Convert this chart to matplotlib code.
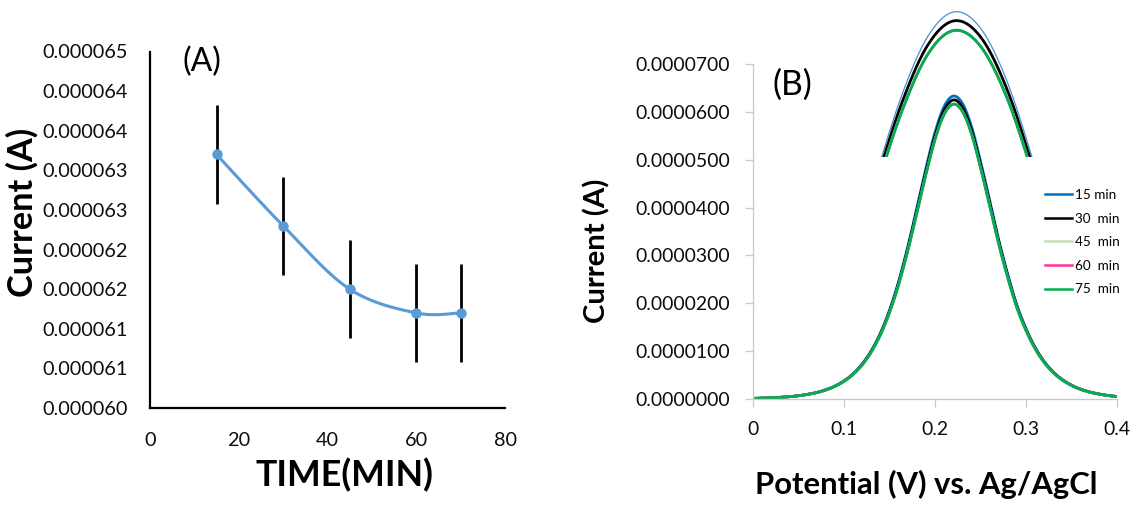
import numpy as np
import matplotlib
matplotlib.use("Agg")
import matplotlib.pyplot as plt
from matplotlib.lines import Line2D

plt.rcParams['font.family'] = ['Lato', 'DejaVu Sans']

# ---------------- data ----------------
# (A) peak current vs. incubation time
time_min = [15, 30, 45, 60, 70]
current_uA = [63.2, 62.3, 61.5, 61.2, 61.2]
current_err_uA = [0.62, 0.62, 0.62, 0.62, 0.62]
a_yticks_uA = [60.0, 60.5, 61.0, 61.5, 62.0, 62.5, 63.0, 63.5, 64.0, 64.5]
a_ytick_labels = ['0.000060', '0.000061', '0.000061', '0.000062', '0.000062',
                  '0.000063', '0.000063', '0.000064', '0.000064', '0.000065']
a_xticks = [0, 20, 40, 60, 80]

# (B) differential pulse voltammograms
potential_V = [0.00, 0.01, 0.02, 0.03, 0.04, 0.05, 0.06, 0.07, 0.08, 0.09,
               0.10, 0.11, 0.12, 0.13, 0.14, 0.15, 0.16, 0.17, 0.18, 0.19,
               0.20, 0.21, 0.22, 0.23, 0.24, 0.25, 0.26, 0.27, 0.28, 0.29,
               0.30, 0.31, 0.32, 0.33, 0.34, 0.35, 0.36, 0.37, 0.38, 0.39, 0.40]
dpv_15_uA = [0.12, 0.18, 0.25, 0.35, 0.49, 0.69, 0.98, 1.37, 1.93, 2.71, 3.79,
             5.27, 7.33, 10.10, 13.76, 18.55, 24.54, 31.75, 39.88, 48.20, 55.70,
             61.10, 63.30, 61.80, 57.00, 49.70, 41.60, 33.30, 26.00, 19.60, 14.70,
             10.80, 7.83, 5.63, 4.05, 2.90, 2.06, 1.47, 1.05, 0.74, 0.53]
dpv_30_uA = [0.12, 0.18, 0.25, 0.35, 0.48, 0.68, 0.97, 1.35, 1.90, 2.67, 3.74,
             5.20, 7.23, 9.97, 13.58, 18.31, 24.22, 31.34, 39.36, 47.57, 54.98,
             60.31, 62.48, 61.00, 56.26, 49.05, 41.06, 32.87, 25.66, 19.35, 14.51,
             10.66, 7.73, 5.56, 4.00, 2.86, 2.03, 1.45, 1.04, 0.73, 0.52]
dpv_45_uA = [0.12, 0.18, 0.24, 0.34, 0.48, 0.67, 0.95, 1.33, 1.88, 2.64, 3.69,
             5.13, 7.13, 9.83, 13.39, 18.05, 23.88, 30.89, 38.80, 46.95, 54.25,
             59.50, 61.64, 60.18, 55.50, 48.40, 40.48, 32.40, 25.30, 19.07, 14.30,
             10.51, 7.62, 5.48, 3.94, 2.82, 2.00, 1.43, 1.02, 0.72, 0.52]
dpv_60_uA = [0.12, 0.18, 0.24, 0.34, 0.48, 0.67, 0.95, 1.33, 1.88, 2.64, 3.69,
             5.13, 7.13, 9.83, 13.39, 18.05, 23.88, 30.89, 38.80, 46.92, 54.22,
             59.47, 61.61, 60.15, 55.48, 48.38, 40.48, 32.40, 25.30, 19.07, 14.30,
             10.51, 7.62, 5.48, 3.94, 2.82, 2.00, 1.43, 1.02, 0.72, 0.52]
dpv_75_uA = [0.12, 0.18, 0.24, 0.34, 0.48, 0.67, 0.95, 1.33, 1.88, 2.64, 3.69,
             5.13, 7.13, 9.83, 13.39, 18.05, 23.88, 30.89, 38.80, 46.90, 54.20,
             59.45, 61.59, 60.13, 55.46, 48.36, 40.48, 32.40, 25.30, 19.07, 14.30,
             10.51, 7.62, 5.48, 3.94, 2.82, 2.00, 1.43, 1.02, 0.72, 0.52]
series_labels = ['15 min', '30  min', '45  min', '60  min', '75  min']
series_colors = ['#0070C0', '#000000', '#C5E0B4', '#FF3399', '#00B050']
b_yticks_uA = [0, 10, 20, 30, 40, 50, 60, 70]
b_xticks = [0, 0.1, 0.2, 0.3, 0.4]

W, H = 1137, 518


def box(x0, y0, x1, y1):
    """Figure-fraction rectangle from pixel corners (top-left origin)."""
    return [x0 / W, 1 - y1 / H, (x1 - x0) / W, (y1 - y0) / H]


def smooth(x, y, n=24):
    """Smoothed polyline through the points (cubic Bezier, Catmull-Rom tangents)."""
    p = np.column_stack([x, y]).astype(float)
    pp = np.vstack([p[:1], p, p[-1:]])
    t = np.linspace(0, 1, n)[:, None]
    out = []
    for i in range(len(p) - 1):
        p0, p1, p2, p3 = pp[i], pp[i + 1], pp[i + 2], pp[i + 3]
        c1 = p1 + (p2 - p0) / 6.0
        c2 = p2 - (p3 - p1) / 6.0
        seg = ((1 - t) ** 3) * p1 + 3 * ((1 - t) ** 2) * t * c1 + 3 * (1 - t) * t ** 2 * c2 + t ** 3 * p2
        out.append(seg if i == 0 else seg[1:])
    s = np.vstack(out)
    return s[:, 0], s[:, 1]


fig = plt.figure(figsize=(W / 100, H / 100), dpi=100)
renderer = fig.canvas.get_renderer()


def fit(txt, target_px, along='w'):
    """Scale a text's font so its box is target_px long."""
    bb = txt.get_window_extent(renderer)
    cur = bb.width if along == 'w' else bb.height
    txt.set_fontsize(txt.get_fontsize() * target_px / cur)


def fitted_size(sample, target_px, **kw):
    t = fig.text(0, 0, sample, fontsize=10, **kw)
    size = 10 * target_px / t.get_window_extent(renderer).width
    t.remove()
    return size


tick_size_a = fitted_size('0.000065', 85)
tick_size_b = fitted_size('0.0000700', 94)
legend_size = fitted_size('15 min', 41)

# ---------------- panel A ----------------
axA = fig.add_axes(box(150, 51.5, 505, 408))
tA = np.array(time_min)
iA = np.array(current_uA) * 1e-6
eA = np.array(current_err_uA) * 1e-6
axA.errorbar(tA, iA, yerr=eA, fmt='none', ecolor='black', elinewidth=2.0, capsize=0, zorder=2)
sx, sy = smooth(tA, iA)
axA.plot(sx, sy, color='#5B9BD5', lw=2.2, zorder=3)
axA.plot(tA, iA, 'o', color='#5B9BD5', ms=6.5, zorder=4)
axA.set_xlim(0, 80)
axA.set_ylim(60.0e-6, 64.5e-6)
axA.set_xticks(a_xticks)
axA.set_yticks(np.array(a_yticks_uA) * 1e-6)
axA.set_yticklabels(a_ytick_labels)
axA.tick_params(axis='both', length=0, labelsize=tick_size_a, colors='#0d0d0d')
axA.tick_params(axis='y', pad=16)
axA.tick_params(axis='x', pad=17)
for side in ('top', 'right'):
    axA.spines[side].set_visible(False)
for side in ('left', 'bottom'):
    axA.spines[side].set_linewidth(1.6)
    axA.spines[side].set_color('black')

tA_lbl = fig.text(183 / W, 1 - 62 / H, '(A)', fontsize=16, va='center', ha='left')
fit(tA_lbl, 39)
ylA = fig.text(22 / W, 1 - 212.5 / H, 'Current (A)', rotation=90, fontsize=20,
               fontweight='bold', ha='center', va='center')
fit(ylA, 169, 'h')
xlA = fig.text(344 / W, 1 - 475 / H, 'TIME(MIN)', fontsize=21, fontweight='bold',
               ha='center', va='center')
fit(xlA, 178)

# ---------------- panel B ----------------
axB = fig.add_axes(box(753, 64, 1117, 399))
xB = np.array(potential_V)
all_series = [dpv_15_uA, dpv_30_uA, dpv_45_uA, dpv_60_uA, dpv_75_uA]
main_lw = [2.0, 2.0, 1.8, 1.8, 2.0]
for vals, c, lw in zip(all_series, series_colors, main_lw):
    sx, sy = smooth(xB, np.array(vals) * 1e-6, n=12)
    axB.plot(sx, sy, color=c, lw=lw)
axB.set_xlim(0, 0.4)
axB.set_ylim(0, 70e-6)
axB.set_xticks(b_xticks)
axB.set_xticklabels(['0', '0.1', '0.2', '0.3', '0.4'])
axB.set_yticks(np.array(b_yticks_uA) * 1e-6)
axB.set_yticklabels([f'{v * 1e-6:.7f}' for v in b_yticks_uA])
axB.tick_params(axis='both', direction='out', length=5.5, width=0.9,
                color='#C8C8C8', labelsize=tick_size_b, labelcolor='#0d0d0d')
axB.tick_params(axis='y', pad=11)
axB.tick_params(axis='x', pad=10)
for side in ('top', 'right'):
    axB.spines[side].set_visible(False)
for side in ('left', 'bottom'):
    axB.spines[side].set_color('#C8C8C8')
    axB.spines[side].set_linewidth(0.9)

handles = [Line2D([], [], color=c, lw=1.8) for c in series_colors]
axB.legend(handles, series_labels, loc='upper left', frameon=False,
           bbox_to_anchor=(1045 / W, 1 - 189 / H), bbox_transform=fig.transFigure,
           fontsize=legend_size, handlelength=2.0, handletextpad=0.2,
           labelspacing=0.86, borderaxespad=0, borderpad=0)

tB_lbl = fig.text(773 / W, 1 - 85 / H, '(B)', fontsize=16, va='center', ha='left')
fit(tB_lbl, 40)
ylB = fig.text(597 / W, 1 - 250.5 / H, 'Current (A)', rotation=90, fontsize=17.5,
               fontweight='bold', ha='center', va='center')
fit(ylB, 145, 'h')
xlB = fig.text(926 / W, 1 - 484 / H, 'Potential (V) vs. Ag/AgCl', fontsize=18.5,
               fontweight='bold', ha='center', va='center')
fit(xlB, 343)

# magnified view of the peak tops
axI = fig.add_axes(box(860, 2, 1055, 157))
inset_lw = [0.9, 2.0, 1.8, 1.8, 2.0]
inset_colors = ['#4A8FD4', '#000000', '#C5E0B4', '#FF3399', '#00B050']
for vals, c, lw in zip(all_series, inset_colors, inset_lw):
    sx, sy = smooth(xB, np.array(vals) * 1e-6, n=24)
    axI.plot(sx, sy, color=c, lw=lw)
axI.set_xlim(0.1840, 0.2584)
axI.set_ylim(50.0e-6, 64.2e-6)
axI.axis('off')

fig.savefig('out.png', dpi=100)
